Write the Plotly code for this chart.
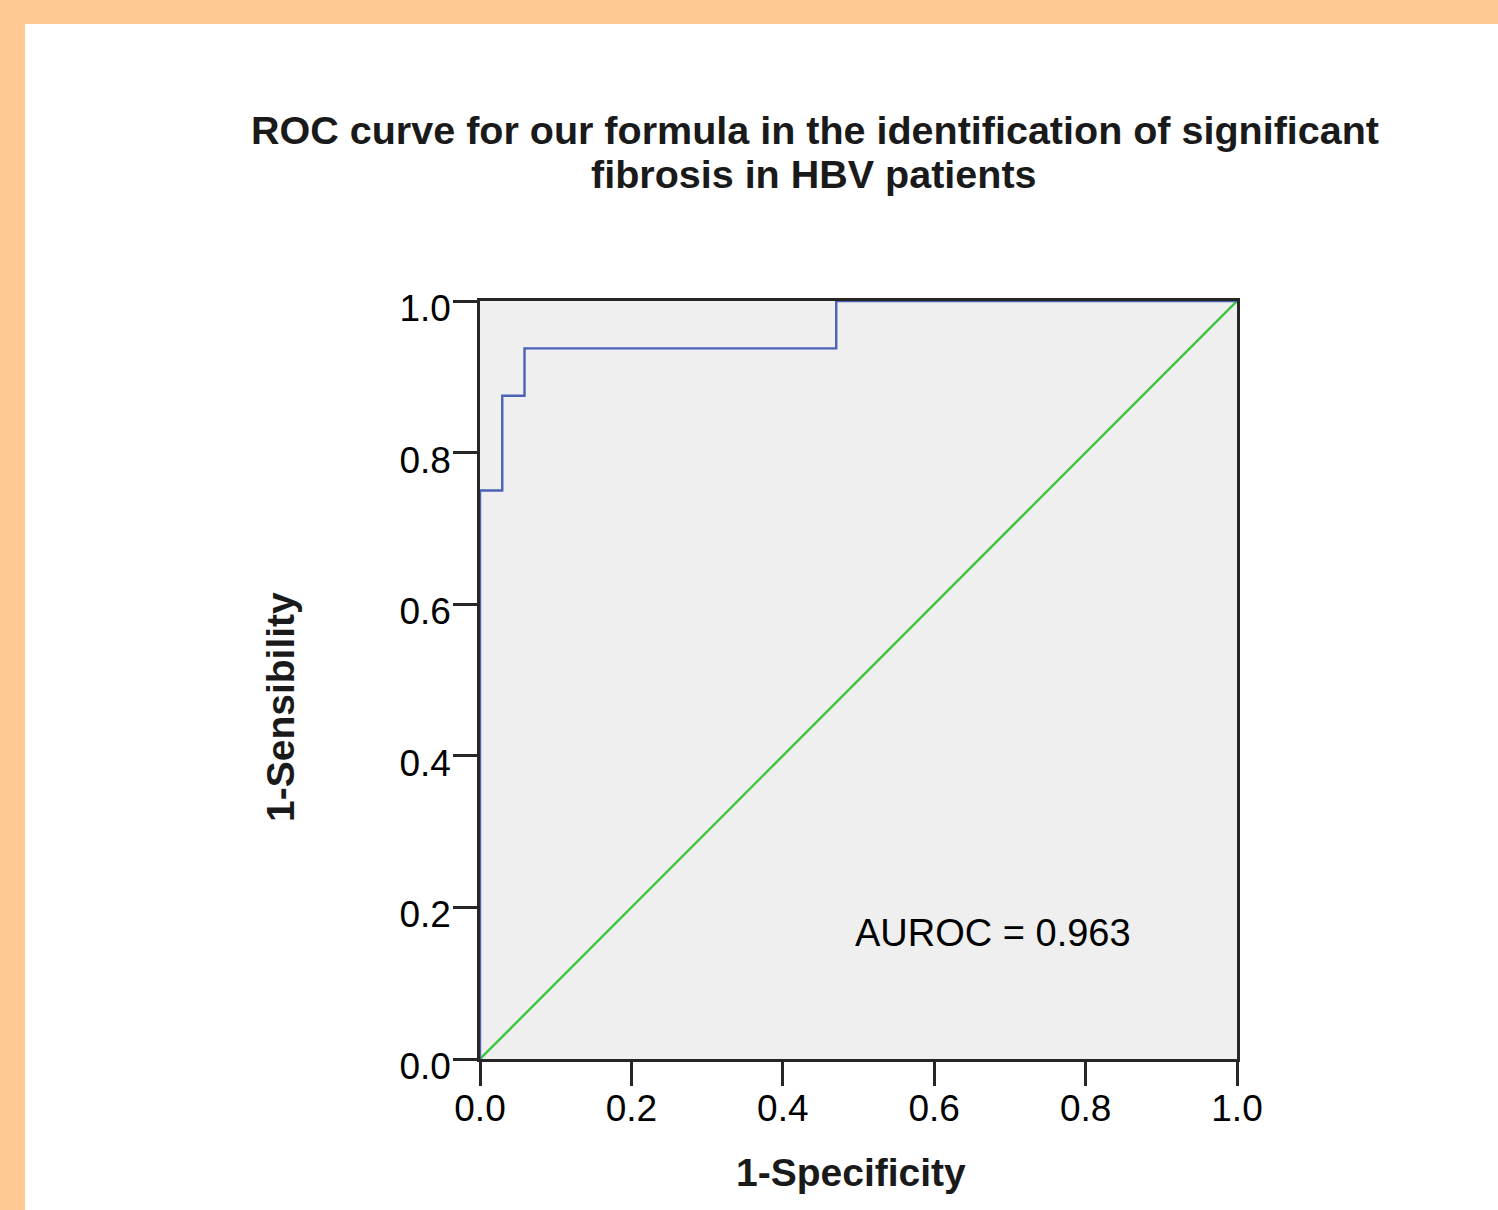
import plotly.graph_objects as go

# ROC curve corner points (1-Specificity, 1-Sensibility)
roc_fpr = [0.0, 0.0, 0.0294, 0.0294, 0.0588, 0.0588, 0.4706, 0.4706, 1.0]
roc_tpr = [0.0, 0.75, 0.75, 0.875, 0.875, 0.9375, 0.9375, 1.0, 1.0]
ref_x = [0.0, 1.0]
ref_y = [0.0, 1.0]
tick_vals = [0.0, 0.2, 0.4, 0.6, 0.8, 1.0]
tick_text = ["0.0", "0.2", "0.4", "0.6", "0.8", "1.0"]
auroc_label = "AUROC = 0.963"
title_lines = ["ROC curve for our formula in the identification of significant",
               "fibrosis in HBV patients"]
x_title = "1-Specificity"
y_title = "1-Sensibility"

W, H = 1498, 1210
L, R, T, B = 480, 1237, 301, 1059
pw, ph = R - L, B - T


def px(xp):
    return (xp - L) / pw


def py(yp):
    return (B - yp) / ph


FONT = "Liberation Sans, Arial, Helvetica, sans-serif"
TXT = "#1a1a1a"

fig = go.Figure()
fig.add_trace(go.Scatter(x=ref_x, y=ref_y, mode="lines",
                         line=dict(color="#3ec43e", width=2.4), showlegend=False))
fig.add_trace(go.Scatter(x=roc_fpr, y=roc_tpr, mode="lines",
                         line=dict(color="#4a62b8", width=2.4), showlegend=False))

axis_common = dict(
    range=[0, 1], tickvals=tick_vals, ticktext=tick_text,
    ticks="outside", ticklen=24, tickwidth=2.5, tickcolor="#262626",
    showline=True, linecolor="#262626", linewidth=2.5, mirror=True,
    showgrid=False, zeroline=False,
    tickfont=dict(family=FONT, size=37, color="#000"),
)

fig.update_layout(
    width=W, height=H,
    margin=dict(l=L, r=W - R, t=T, b=H - B, pad=0),
    paper_bgcolor="white", plot_bgcolor="#efefef",
    xaxis=dict(**axis_common, ticklabelstandoff=-9),
    yaxis=dict(**axis_common, ticklabelstandoff=-5, ticklabelshift=7),
    showlegend=False,
)

# title lines
fig.add_annotation(x=px(815), y=py(130), xref="paper", yref="paper",
                   text="<b>" + title_lines[0] + "</b>", showarrow=False,
                   xanchor="center", yanchor="middle",
                   font=dict(family=FONT, size=39.5, color=TXT))
fig.add_annotation(x=px(814), y=py(174), xref="paper", yref="paper",
                   text="<b>" + title_lines[1] + "</b>", showarrow=False,
                   xanchor="center", yanchor="middle",
                   font=dict(family=FONT, size=39.5, color=TXT))
# axis titles
fig.add_annotation(x=px(851), y=py(1172), xref="paper", yref="paper",
                   text="<b>" + x_title + "</b>", showarrow=False,
                   xanchor="center", yanchor="middle",
                   font=dict(family=FONT, size=39, color=TXT))
fig.add_annotation(x=px(280), y=py(707), xref="paper", yref="paper",
                   text="<b>" + y_title + "</b>", showarrow=False, textangle=-90,
                   xanchor="center", yanchor="middle",
                   font=dict(family=FONT, size=39, color=TXT))

fig.add_annotation(x=0.678, y=0.166, xref="x", yref="y", text=auroc_label,
                   showarrow=False, font=dict(family=FONT, size=38, color="#000"))

# orange frame strips (left and top)
orange = "#ffc994"
fig.add_shape(type="rect", xref="paper", yref="paper", layer="above",
              x0=px(0), x1=px(25), y0=py(H), y1=py(0),
              fillcolor=orange, line=dict(width=0))
fig.add_shape(type="rect", xref="paper", yref="paper", layer="above",
              x0=px(0), x1=px(W), y0=py(24), y1=py(0),
              fillcolor=orange, line=dict(width=0))

fig.write_html("out.html", config={"displayModeBar": False},
               post_script="document.body.style.margin='0px';document.body.style.padding='0px';")
